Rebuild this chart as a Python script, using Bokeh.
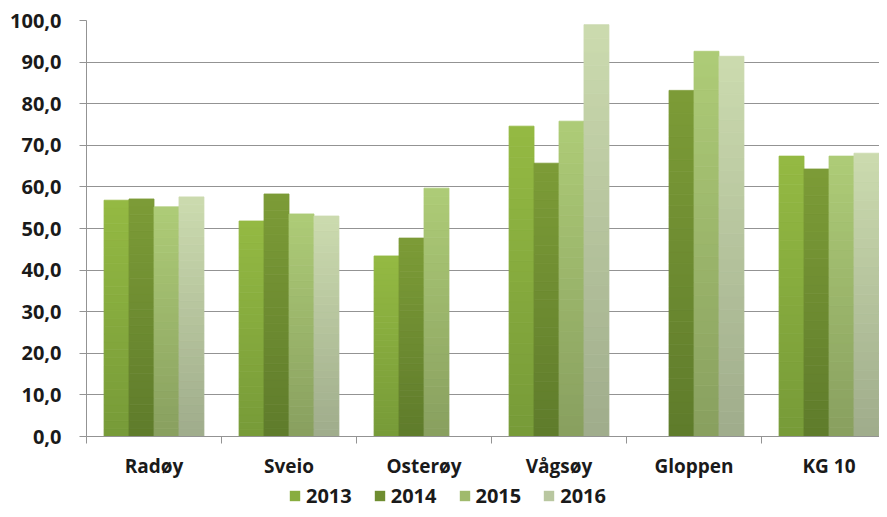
import numpy as np
from bokeh.plotting import figure
from bokeh.layouts import column
from bokeh.models import Range1d, FixedTicker, ColumnDataSource, Legend, LegendItem
from bokeh.embed import file_html
from bokeh.resources import INLINE

# ---- data ----
categories = ["Radøy", "Sveio", "Osterøy", "Vågsøy", "Gloppen", "KG 10"]
series = ["2013", "2014", "2015", "2016"]
v2013 = [56.8, 51.8, 43.4, 74.6, None, 67.4]
v2014 = [57.1, 58.3, 47.7, 65.7, 83.2, 64.3]
v2015 = [55.2, 53.5, 59.7, 75.8, 92.6, 67.4]
v2016 = [57.6, 53.0, None, 99.0, 91.4, 68.1]
y_ticks = [0, 10, 20, 30, 40, 50, 60, 70, 80, 90, 100]
y_tick_labels = ["0,0", "10,0", "20,0", "30,0", "40,0", "50,0", "60,0",
                 "70,0", "80,0", "90,0", "100,0"]

values = [v2013, v2014, v2015, v2016]
top_colors = ["#94BA43", "#7D9C37", "#AECC77", "#CCDBAF"]
bot_colors = ["#779A38", "#5E7B2B", "#889F5F", "#9FAC8B"]
mid_colors = ["#88AD3F", "#6F8D31", "#A0BA6D", "#B9C7A0"]

FONT = "Open Sans"
TXT = "#1a1a1a"
GRID = "#939393"

CAT_PX = 135.0
W, H = 879, 509
LEFT, TOP, BOTTOM = 86, 20, 45
H1 = 436 + BOTTOM
H2 = H - H1
frame_w = W - LEFT
x_end = -0.5 + frame_w / CAT_PX

p = figure(width=W, height=H1, output_backend="svg", toolbar_location=None,
           x_range=Range1d(-0.5, x_end), y_range=Range1d(0, 100),
           min_border_left=LEFT, min_border_right=0, min_border_top=TOP,
           min_border_bottom=BOTTOM)
p.outline_line_color = None
p.background_fill_color = "white"
p.border_fill_color = "white"


def hex2rgb(h):
    h = h.lstrip("#")
    return np.array([int(h[i:i + 2], 16) for i in (0, 2, 4)], dtype=float)


def rgb2hex(c):
    return "#%02x%02x%02x" % tuple(int(round(x)) for x in c)


bar_w = 0.185
n = len(series)
offsets = (np.arange(n) - (n - 1) / 2.0) * bar_w
N = 30

# legend strip (its frame is aligned with the chart's frame by the column)
lf = figure(width=W, height=H2, output_backend="svg", toolbar_location=None,
            x_range=Range1d(0, 1), y_range=Range1d(0, 1),
            x_axis_type=None, y_axis_type=None,
            min_border_left=LEFT, min_border_right=0, min_border_top=0,
            min_border_bottom=0)
lf.grid.visible = False
lf.outline_line_color = None

legend_items = []
for si, name in enumerate(series):
    xs, bots, tops, cols = [], [], [], []
    ct, cb = hex2rgb(top_colors[si]), hex2rgb(bot_colors[si])
    for ci, v in enumerate(values[si]):
        if v is None:
            continue
        for k in range(N):
            f = (k + 0.5) / N
            xs.append(ci + offsets[si])
            bots.append(v * k / N)
            tops.append(v * (k + 1) / N)
            cols.append(rgb2hex(cb + (ct - cb) * f))
    src = ColumnDataSource(dict(x=xs, bottom=bots, top=tops, color=cols))
    p.vbar(x="x", bottom="bottom", top="top", width=bar_w, source=src,
           fill_color="color", line_color="color", line_width=0.8)
    # zero-size stand-in glyph, used only for the legend swatch
    dummy = lf.vbar(x=[0.5], bottom=[0.0], top=[0.0], width=0.0,
                    fill_color=mid_colors[si], line_color=None)
    legend_items.append(LegendItem(label=name, renderers=[dummy]))

# x axis
xa = p.xaxis[0]
xa.ticker = FixedTicker(ticks=list(range(len(categories))),
                        minor_ticks=[i - 0.5 for i in range(len(categories))])
xa.major_label_overrides = {i: c for i, c in enumerate(categories)}
xa.major_tick_out = 0
xa.major_tick_in = 0
xa.minor_tick_out = 7
xa.minor_tick_in = 0
xa.minor_tick_line_color = GRID
xa.axis_line_color = GRID
xa.major_label_text_font = FONT
xa.major_label_text_font_style = "bold"
xa.major_label_text_font_size = "19px"
xa.major_label_text_color = TXT
xa.major_label_standoff = 9

# y axis
ya = p.yaxis[0]
ya.ticker = FixedTicker(ticks=y_ticks, minor_ticks=[])
ya.major_label_overrides = {t: l for t, l in zip(y_ticks, y_tick_labels)}
ya.major_tick_out = 7
ya.major_tick_in = 0
ya.major_tick_line_color = GRID
ya.axis_line_color = GRID
ya.major_label_text_font = FONT
ya.major_label_text_font_style = "bold"
ya.major_label_text_font_size = "20px"
ya.major_label_text_color = TXT
ya.major_label_standoff = 18

p.xgrid.grid_line_color = None
p.ygrid.ticker = FixedTicker(ticks=y_ticks)
p.ygrid.grid_line_color = GRID
p.ygrid.grid_line_width = 1.2

legend = Legend(items=legend_items, orientation="horizontal",
                location=(288 - LEFT, 0), glyph_width=13, glyph_height=13,
                label_standoff=5, spacing=21, padding=0, margin=0,
                border_line_color=None, background_fill_alpha=0,
                label_text_font=FONT, label_text_font_style="bold",
                label_text_font_size="20px", label_text_color=TXT)
lf.add_layout(legend, "center")

layout = column(p, lf, spacing=0)
open("out.html", "w").write(file_html(layout, INLINE))
